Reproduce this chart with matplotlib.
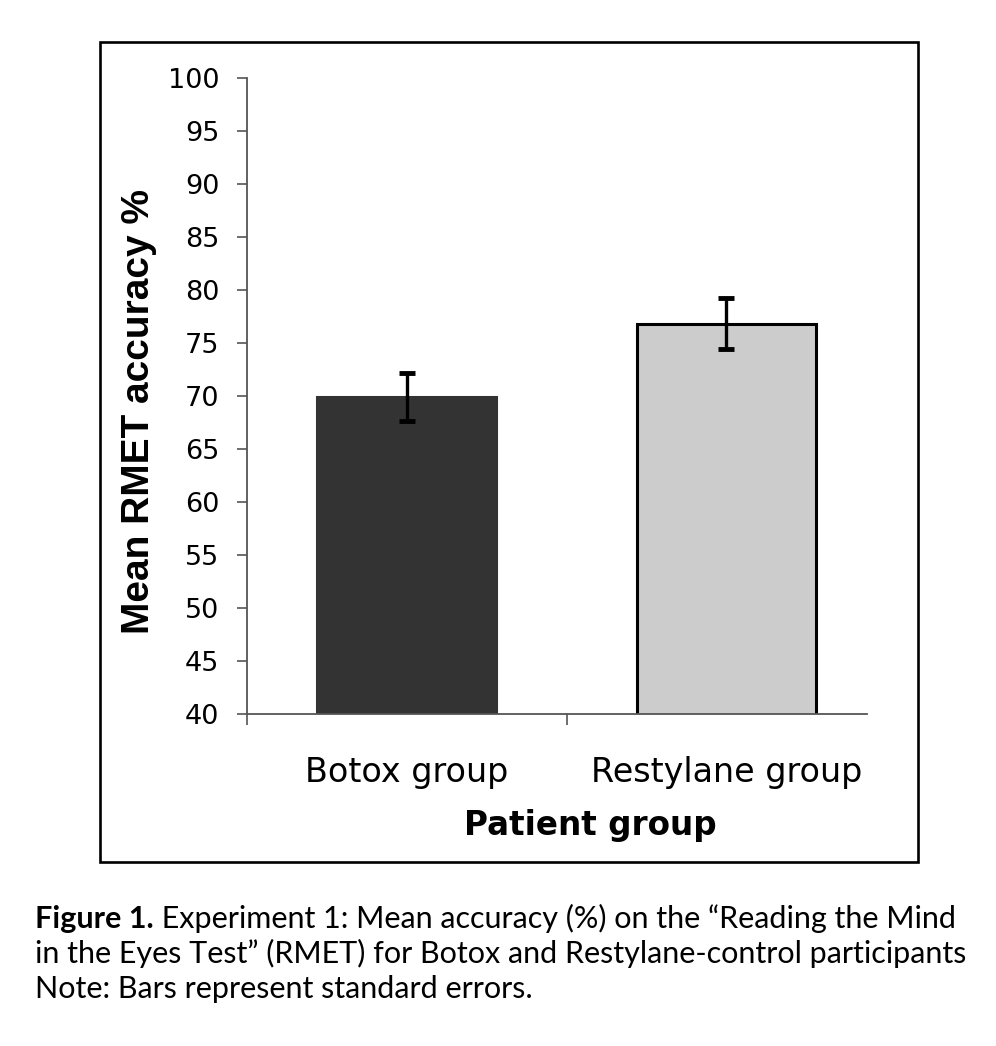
import matplotlib
matplotlib.use("Agg")
import matplotlib.pyplot as plt
from matplotlib.patches import Rectangle

# data
groups = ["Botox group", "Restylane group"]
mean_acc = [69.9, 76.8]
std_err = [2.3, 2.4]
bar_colors = ["#333333", "#cccccc"]
edge_colors = ["#333333", "black"]
yticks = list(range(40, 101, 5))

W, H = 996, 1046
fig = plt.figure(figsize=(W / 100, H / 100), dpi=100)

# outer frame around the chart
fig.patches.append(Rectangle((100 / W, 1 - 862 / H), 818 / W, 820 / H,
                             transform=fig.transFigure, fill=False,
                             edgecolor="black", linewidth=1.9))

ax = fig.add_axes([247 / W, 1 - 714 / H, (867 - 247) / W, (714 - 78) / H])
x = list(range(len(groups)))
ax.bar(x, mean_acc, width=0.56, color=bar_colors, edgecolor=edge_colors,
       linewidth=2.2, zorder=2)
ax.errorbar(x, mean_acc, yerr=std_err, fmt="none", ecolor="black",
            elinewidth=2.4, capsize=6, capthick=3.5, zorder=3)

ax.set_xlim(-0.5, 1.44)
ax.set_ylim(40, 100)
ax.set_yticks(yticks)
ax.set_yticklabels([str(v) for v in yticks], fontsize=19.5, family="DejaVu Sans")
ax.set_xticks(x)
ax.set_xticklabels(groups, fontsize=24, family="DejaVu Sans")
ax.set_xticks([-0.5, 0.5], minor=True)
ax.tick_params(axis="x", which="major", length=0, pad=30)
ax.tick_params(axis="x", which="minor", length=8, width=1.2, color="#555555")
ax.tick_params(axis="y", length=7, width=1.2, color="#555555", pad=13)

for s in ["top", "right"]:
    ax.spines[s].set_visible(False)
for s in ["left", "bottom"]:
    ax.spines[s].set_color("#555555")
    ax.spines[s].set_linewidth(1.3)

fig.text(139 / W, 1 - 411 / H, "Mean RMET accuracy %", rotation=90,
         ha="center", va="center", fontsize=28, fontweight="bold",
         family="Liberation Sans")
fig.text(590 / W, 1 - 826 / H, "Patient group", ha="center", va="center",
         fontsize=23.5, fontweight="bold", family="DejaVu Sans")

# caption
cap_kw = dict(fontsize=22, family="Lato")
t1 = fig.text(35 / W, 1 - 928 / H, "Figure 1.", fontweight="bold",
              va="baseline", **cap_kw)
ax.annotate(" Experiment 1: Mean accuracy (%) on the \u201cReading the Mind",
            xy=(1, 0), xycoords=t1, va="bottom", ha="left", **cap_kw)
fig.text(35 / W, 1 - 963 / H,
         "in the Eyes Test\u201d (RMET) for Botox and Restylane-control participants",
         va="baseline", **cap_kw)
fig.text(35 / W, 1 - 998 / H, "Note: Bars represent standard errors.",
         va="baseline", **cap_kw)

fig.savefig("out.png", dpi=100)
